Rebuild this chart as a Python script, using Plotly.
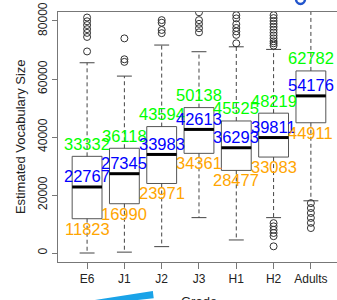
import plotly.graph_objects as go

grades = ["E6", "J1", "J2", "J3", "H1", "H2", "Adults"]
q1 = [11823, 16990, 23971, 34361, 28477, 33083, 44911]
median = [22767, 27345, 33983, 42613, 36293, 39811, 54176]
q3 = [33332, 36118, 43594, 50138, 45525, 48219, 62782]
whisker_low = [0, 300, 2200, 12200, 4500, 12200, 18000]
whisker_high = [65600, 61000, 71700, 69400, 71100, 70200, 88000]
outliers = [
    [81200, 79900, 78600, 77200, 75900, 74500, 69500],
    [74000, 66800, 65900],
    [80300, 79400, 76900, 75800],
    [83000, 80300, 79000, 77500, 76100],
    [82000, 80900, 78900, 77600, 76400, 75200, 72300],
    [82000, 81000, 80000, 79000, 78000, 77000, 76000, 75000, 74000, 73000, 72300, 71500,
     10300, 9200, 8000, 6900, 5800, 2300],
    [17200, 15500, 13800, 12100, 10400, 8600],
]
y_ticks = [0, 20000, 40000, 60000, 80000]

FONT = "Liberation Sans, Arial, Helvetica, sans-serif"
pos = list(range(1, len(grades) + 1))
half_box = 0.4
half_cap = 0.2

fig = go.Figure()

fig.add_trace(go.Box(
    x=pos, q1=q1, median=median, q3=q3, lowerfence=q1, upperfence=q3,
    width=0.8, fillcolor="white", line=dict(color="#555555", width=1),
    whiskerwidth=0, boxpoints=False, hoverinfo="skip", showlegend=False,
))

# dashed whiskers
wx, wy = [], []
for i, p in enumerate(pos):
    wx += [p, p, None, p, p, None]
    wy += [q3[i], whisker_high[i], None, q1[i], whisker_low[i], None]
fig.add_trace(go.Scatter(x=wx, y=wy, mode="lines",
                         line=dict(color="#444444", width=1, dash="4px,3px"),
                         hoverinfo="skip", showlegend=False))

# caps
cx, cy = [], []
for i, p in enumerate(pos):
    cx += [p - half_cap, p + half_cap, None, p - half_cap, p + half_cap, None]
    cy += [whisker_high[i], whisker_high[i], None, whisker_low[i], whisker_low[i], None]
fig.add_trace(go.Scatter(x=cx, y=cy, mode="lines",
                         line=dict(color="#444444", width=1),
                         hoverinfo="skip", showlegend=False))

# thick medians
mx, my = [], []
for i, p in enumerate(pos):
    mx += [p - half_box, p + half_box, None]
    my += [median[i], median[i], None]
fig.add_trace(go.Scatter(x=mx, y=my, mode="lines",
                         line=dict(color="black", width=3),
                         hoverinfo="skip", showlegend=False))

# outliers
ox, oy = [], []
for i, p in enumerate(pos):
    for v in outliers[i]:
        ox.append(p)
        oy.append(v)
fig.add_trace(go.Scatter(x=ox, y=oy, mode="markers",
                         marker=dict(symbol="circle-open", size=7,
                                     line=dict(color="#333333", width=1), color="#333333"),
                         hoverinfo="skip", showlegend=False))

annotations = []
for i, p in enumerate(pos):
    for val, col, shift in ((q3[i], "#00FF00", 12.5),
                            (median[i], "#0000FF", 10.5),
                            (q1[i], "#FFA500", -10)):
        annotations.append(dict(
            x=p, y=val, xref="x", yref="y", text=str(val), showarrow=False,
            xanchor="center", yanchor="middle", yshift=shift,
            font=dict(family=FONT, size=16.5, color=col)))

annotations.append(dict(
    x=-0.136, y=0.5, xref="paper", yref="paper", text="Estimated Vocabulary Size",
    textangle=-90, showarrow=False, xanchor="center", yanchor="middle",
    font=dict(family=FONT, size=13, color="#222222")))
annotations.append(dict(
    x=4, y=-0.12, xref="x", yref="paper", text="Grade", showarrow=False,
    xanchor="center", yanchor="top",
    font=dict(family=FONT, size=13, color="#222222")))

shapes = [
    # blue swoosh decoration at bottom
    dict(type="path", xref="paper", yref="paper",
         path="M 0.115 -0.155 L 0.34 -0.116 L 0.343 -0.145 L 0.22 -0.16 Z",
         fillcolor="#1AA3E8", line=dict(width=0)),
    # partial blue glyph at top right
    dict(type="circle", xref="paper", yref="paper",
         x0=(296 - 58) / 279, x1=(305 - 58) / 279,
         y0=(262 - 4) / 250, y1=(262 + 6) / 250,
         line=dict(color="#2255CC", width=2.5)),
]

fig.update_layout(
    width=337, height=300,
    margin=dict(l=58, r=0, t=12, b=38, autoexpand=False),
    paper_bgcolor="white", plot_bgcolor="white",
    showlegend=False,
    annotations=annotations, shapes=shapes,
    font=dict(family=FONT, size=12, color="#222222"),
    xaxis=dict(range=[0.22, 7.70], tickmode="array", tickvals=pos, ticktext=grades,
               showline=True, linecolor="#777777", linewidth=1, mirror=True,
               ticks="outside", ticklen=6, tickcolor="#777777", automargin=False,
               showgrid=False, zeroline=False,
               tickfont=dict(family=FONT, size=12, color="#222222")),
    yaxis=dict(range=[-3100, 83100], tickmode="array", tickvals=y_ticks,
               ticktext=[str(v) for v in y_ticks], tickangle=-90,
               showline=True, linecolor="#777777", linewidth=1, automargin=False,
               ticks="outside", ticklen=5, tickcolor="#777777",
               showgrid=False, zeroline=False,
               tickfont=dict(family=FONT, size=12, color="#222222")),
)

fig.write_html(
    "out.html",
    config={"displayModeBar": False},
    post_script="document.body.style.margin='0';document.body.style.padding='0';"
                "document.body.style.overflow='hidden';",
)
